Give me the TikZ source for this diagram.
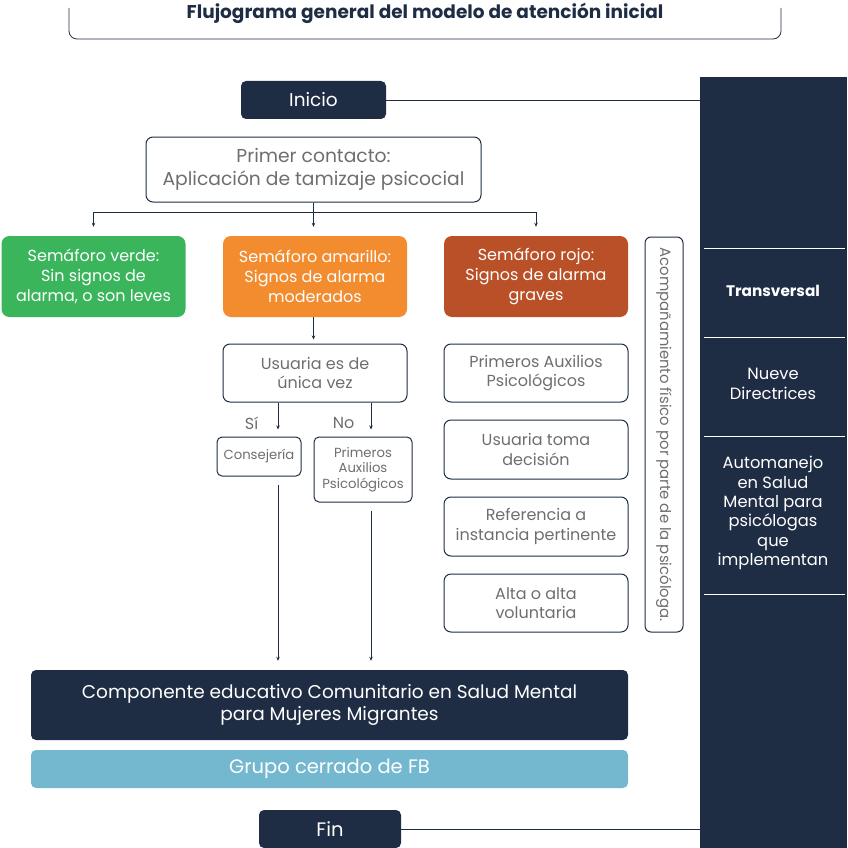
\documentclass[tikz,border=0pt]{standalone}
\usepackage{fontspec}
\setmainfont{Poppins}
\usetikzlibrary{positioning, arrows.meta}
\definecolor{navy}{HTML}{1F2D44}
\definecolor{txtgray}{HTML}{6E6E70}
\definecolor{verde}{HTML}{3BB55C}
\definecolor{amarillo}{HTML}{F28C2E}
\definecolor{rojo}{HTML}{BA5027}
\definecolor{celeste}{HTML}{74B8D0}

\begin{document}
\begin{tikzpicture}[
    x=1pt, y=-1pt,
    box/.style={rectangle, draw=navy, line width=1pt, rounded corners=7pt, align=center, text=txtgray, inner sep=2pt, font=\fontsize{16}{19.5}\selectfont},
    darkbox/.style={rectangle, fill=navy, rounded corners=5pt, align=center, text=white, inner sep=2pt, font=\fontsize{18.5}{22}\selectfont},
    signal/.style={rectangle, rounded corners=8pt, align=center, text=white, minimum width=184pt, minimum height=81pt, inner sep=2pt, font=\fontsize{16}{20}\selectfont},
    paneltext/.style={text=white, align=center, font=\fontsize{16.3}{19.3}\selectfont},
    arrow/.style={-{Stealth[length=4pt, width=3.5pt]}, navy, line width=0.8pt},
    line/.style={navy, line width=0.8pt}
]
    \useasboundingbox (0,0) rectangle (847,848);

    % title frame
    \draw[line, rounded corners=8pt] (69,8) -- (69,39) -- (781,39) -- (781,8);
    \node[font=\fontsize{18.5}{22}\selectfont\bfseries, text=navy] (title) at (425,13) {Flujograma general del modelo de atención inicial};

    % right panel
    \node[fill=navy, minimum width=147pt, minimum height=771pt, anchor=north west, inner sep=0pt] (panel) at (700,77) {};
    \foreach \ly in {248, 337, 436, 594}
        \draw[white, line width=1pt] (704,\ly) -- (845,\ly);
    \node[paneltext, font=\fontsize{15.3}{19}\selectfont\bfseries] (transv) at (773,291) {Transversal};
    \node[paneltext] (nueve) at (773,384) {Nueve\\Directrices};
    \node[paneltext] (automan) at (773,513) {Automanejo\\en Salud\\Mental para\\psicólogas\\que\\implementan};

    % main flow
    \node[darkbox, minimum width=145pt, minimum height=38pt] (inicio) at (313.5,100) {Inicio};
    \node[box, minimum width=335pt, minimum height=65pt, font=\fontsize{18.7}{23}\selectfont] (primer) at (313.5,169.5) {Primer contacto:\\Aplicación de tamizaje psicocial};

    \node[signal, fill=verde] (sverde) at (93.5,276.5) {Semáforo verde:\\Sin signos de\\alarma, o son leves};
    \node[signal, fill=amarillo] (samar) at (315,276.5) {Semáforo amarillo:\\Signos de alarma\\moderados};
    \node[signal, fill=rojo] (srojo) at (536,276.5) {Semáforo rojo:\\Signos de alarma\\graves};

    \node[box, rotate=-90, minimum width=395pt, minimum height=38pt, rounded corners=6pt, font=\fontsize{14.9}{17}\selectfont] (acomp) at (664,434.5) {Acompañamiento físico por parte de la psicóloga.};

    % yellow branch
    \node[box, minimum width=184pt, minimum height=58pt] (unica) at (315,373) {Usuaria es de\\única vez};
    \node[box, minimum width=84pt, minimum height=39pt, rounded corners=5pt, font=\fontsize{13.2}{15.5}\selectfont] (conse) at (259,456.5) {Consejería};
    \node[box, minimum width=98pt, minimum height=65pt, rounded corners=5pt, font=\fontsize{13.2}{15.5}\selectfont] (pap2) at (363,469.5) {Primeros\\Auxilios\\Psicológicos};

    % red branch
    \node[box, minimum width=184pt, minimum height=58pt] (pap1) at (536,373) {Primeros Auxilios\\Psicológicos};
    \node[box, minimum width=184pt, minimum height=59pt] (decide) at (536,449.5) {Usuaria toma\\decisión};
    \node[box, minimum width=184pt, minimum height=59pt] (refer) at (536,526.5) {Referencia a\\instancia pertinente};
    \node[box, minimum width=184pt, minimum height=58pt] (alta) at (536,603) {Alta o alta\\voluntaria};

    % closing
    \node[darkbox, minimum width=597pt, minimum height=70pt] (comp) at (329.5,705) {Componente educativo Comunitario en Salud Mental\\para Mujeres Migrantes};
    \node[darkbox, fill=celeste, minimum width=597pt, minimum height=38pt, font=\fontsize{19.5}{22}\selectfont] (grupo) at (329.5,769) {Grupo cerrado de FB};
    \node[darkbox, minimum width=142pt, minimum height=38pt, font=\fontsize{19.5}{22}\selectfont] (fin) at (330,829) {Fin};

    \coordinate (si) at (278,0);
    \coordinate (no) at (371,0);

    \draw[line] (inicio.east) -- (inicio.east -| panel.west);
    \draw[line] (fin.east) -- (fin.east -| panel.west);
    \draw[arrow, shorten >=9pt] (primer.south) -- ++(0,10) -| (sverde.north);
    \draw[arrow, shorten >=9pt] (primer.south) -- ++(0,10) -| (srojo.north);
    \draw[arrow, shorten >=9pt] (primer.south) -- (primer.south |- samar.north);
    \draw[arrow, shorten >=4pt] (samar.south -| primer.south) -- (unica.north -| primer.south);
    \draw[arrow, shorten >=7pt] (unica.south -| si) -- node[left=16pt, pos=0.6, text=txtgray, font=\fontsize{16}{18}\selectfont] {Sí} (conse.north -| si);
    \draw[arrow, shorten >=7pt] (unica.south -| no) -- node[left=13pt, pos=0.6, text=txtgray, font=\fontsize{16}{18}\selectfont] {No} (pap2.north -| no);
    \draw[arrow, shorten <=8pt, shorten >=9pt] (conse.south -| si) -- (comp.north -| si);
    \draw[arrow, shorten <=8pt, shorten >=9pt] (pap2.south -| no) -- (comp.north -| no);
\end{tikzpicture}
\end{document}
